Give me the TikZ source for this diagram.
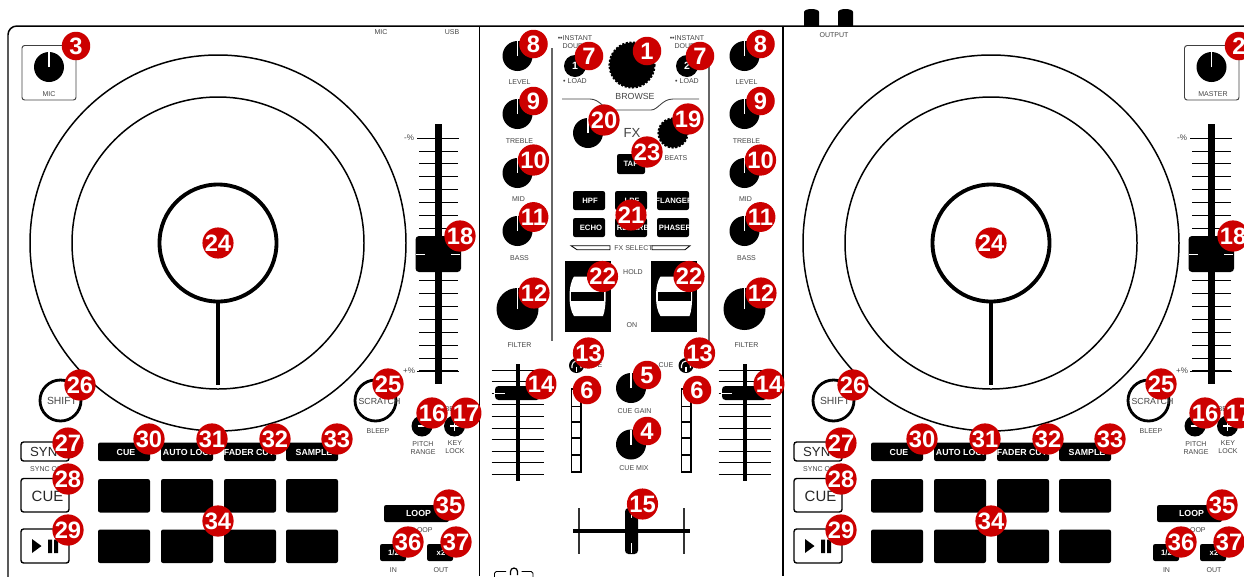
\documentclass[tikz,border=0pt]{standalone}
\usepackage{fontspec}
\setmainfont{Liberation Sans}
\usetikzlibrary{calc}
\definecolor{badgered}{HTML}{CC0000}
\definecolor{labelgray}{HTML}{444444}
\newcommand{\knob}[3]{% centre x, centre y, radius
  \fill (#1,#2) circle[radius=#3];
  \draw[white,line width=0.6pt] (#1,#2) -- (#1,#2-#3);
}
\begin{document}
\begin{tikzpicture}[x=0.02cm,y=-0.02cm,
    every node/.style={inner sep=0pt,outer sep=0pt},
    lbl/.style={text=labelgray,font=\fontsize{4}{4.6}\selectfont,align=center},
    keytxt/.style={text=white,font=\fontsize{5}{5}\selectfont\bfseries},
    smallkey/.style={text=white,font=\fontsize{4.4}{4.4}\selectfont\bfseries},
    pad/.style={fill=black,rounded corners=1.2pt},
    panel/.style={line width=0.85pt},
    tick/.style={line width=0.5pt},
    keybox/.style={draw=black,line width=0.8pt,rounded corners=1.5pt},
    thinbox/.style={draw=black!75,line width=0.55pt,rounded corners=1.5pt},
    ringbtn/.style={draw=black,line width=1.6pt},
    knurl/.style={fill=black,draw=black,line width=1.2pt,dash pattern=on 1.2pt off 0.9pt},
    badge/.style={circle,fill=badgered,text=white,minimum size=0.57cm,
      font=\fontsize{13.5}{13.5}\selectfont\bfseries}
  ]
  \clip (0,0) rectangle (1244,576);

  % case
  \draw[panel,rounded corners=5pt] (8,600) -- (8,26) -- (1260,26);
  \draw[panel] (479.5,26) -- (479.5,576);
  \draw[panel] (783,26) -- (783,576);
  \foreach \ox in {804,838}
    \fill (\ox,26) -- (\ox,12) arc[start angle=180,end angle=360,x radius=7.5,y radius=3] -- (\ox+15,26) -- cycle;
  \node[lbl] (outputlbl) at (834,35) {OUTPUT};
  \node[lbl] (miclbl) at (381,32) {MIC};
  \node[lbl] (usblbl) at (452,32) {USB};

  % corner gain boxes
  \draw[thinbox] (22,45.5) rectangle (76,100);
  \knob{49}{67}{15}
  \node[lbl] (micgain) at (49,94.5) {MIC};
  \draw[thinbox] (1184.5,45.5) rectangle (1239,100);
  \knob{1211.5}{67}{15}
  \node[lbl] (master) at (1213,94.5) {MASTER};

  % both decks
  \foreach \dx/\dk in {0/L,773/R} {
    \begin{scope}[shift={(\dx,0)}]
      % platter
      \draw[line width=0.85pt] (218,243) circle[radius=188];
      \draw[line width=0.85pt] (218,243) circle[radius=146];
      \draw[line width=2.2pt] (218,243) circle[radius=58.5];
      \draw[line width=2.2pt] (218,302) -- (218,385);

      % pitch fader
      \foreach \i in {0,...,18}
        \draw[tick] (419,{138+12.94*\i}) -- ++(39,0);
      \draw[tick] (417,138) -- (459,138);
      \draw[tick] (417,371) -- (459,371);
      \fill (434.5,124) rectangle (441.5,384);
      \fill[rounded corners=2pt] (415.5,236) rectangle (461,272);
      \draw[white,line width=0.5pt] (416,254) -- (425,254) (451,254) -- (460,254);
      \node[lbl,font=\fontsize{4.6}{4.6}\selectfont] (pitchtop\dk) at (409,138) {-\%};
      \node[lbl,font=\fontsize{4.6}{4.6}\selectfont] (pitchbot\dk) at (409,371) {+\%};

      % round buttons
      \draw[ringbtn] (60.5,400.5) circle[radius=20.5];
      \draw[ringbtn] (375.5,400.5) circle[radius=20.5];
      \node[lbl,font=\fontsize{5.9}{5.9}\selectfont] (shift\dk) at (62,401) {SHIFT};
      \node[lbl,font=\fontsize{5}{5}\selectfont] (scratch\dk) at (379.5,401) {SCRATCH};
      \node[lbl] (bleep\dk) at (378,431.5) {BLEEP};
      \fill (422,426) circle[radius=10.5];
      \fill (454.5,426) circle[radius=10.5];
      \draw[white,line width=1pt] (417.5,426) -- (426.5,426);
      \draw[white,line width=1pt] (450,426) -- (459,426) (454.5,421.5) -- (454.5,430.5);
      \node[lbl] (bend\dk) at (443,409) {PITCH BEND};
      \node[lbl] (range\dk) at (423,448.5) {PITCH\\RANGE};
      \node[lbl] (keylock\dk) at (455,447.5) {KEY\\LOCK};

      % transport column
      \draw[keybox] (21,442) rectangle (69,461);
      \draw[keybox] (21,478.5) rectangle (69,512);
      \draw[keybox] (21,529) rectangle (69,563);
      \node[font=\fontsize{7.5}{7.5}\selectfont,text=black!85] (sync\dk) at (48.5,452) {SYNC};
      \node[lbl] (syncoff\dk) at (48,469.5) {SYNC OFF};
      \node[font=\fontsize{8.5}{8.5}\selectfont,text=black!85] (cue\dk) at (47.5,496) {CUE};
      \fill (32,539) -- (41.5,546) -- (32,553) -- cycle;
      \fill (48,539.5) rectangle (52,553) (54,539.5) rectangle (58,553);

      % performance pads
      \foreach \px/\pt/\pn in {98/CUE/a,161/AUTO LOOP/b,224/FADER CUTS/c,286/SAMPLE/d} {
        \fill[pad] (\px,442.5) rectangle (\px+52,461);
        \fill[pad] (\px,479) rectangle (\px+52,512.5);
        \fill[pad] (\px,529.5) rectangle (\px+52,563);
        \node[keytxt] (mode\pn\dk) at (\px+28,452) {\pt};
      }

      % loop keys
      \fill[pad] (384,505) rectangle (449,522);
      \node[keytxt] (loop\dk) at (418.5,513) {LOOP};
      \node[lbl] (reloop\dk) at (418,530.5) {RELOOP};
      \fill[pad] (380,544) rectangle (406,561);
      \fill[pad] (427,544) rectangle (453,561);
      \node[smallkey] (half\dk) at (393.5,553) {1/2};
      \node[smallkey] (dbl\dk) at (441,553) {x2};
      \node[lbl] (in\dk) at (393.5,570.5) {IN};
      \node[lbl] (out\dk) at (441,570.5) {OUT};
    \end{scope}
  }

  % mixer channel strips
  \draw[black!60,line width=0.6pt] (552,48) -- (552,341) (709,48) -- (709,341);
  \foreach \kx/\sd in {517.5/L,744.5/R} {
    \knob{\kx}{56}{15}
    \knob{\kx}{114}{15}
    \knob{\kx}{173}{15}
    \knob{\kx}{231}{15}
    \knob{\kx}{309}{21}
    \node[lbl] (level\sd) at (\kx+2,82.5) {LEVEL};
    \node[lbl] (treble\sd) at (\kx+2,141.5) {TREBLE};
    \node[lbl] (mid\sd) at (\kx+1,199) {MID};
    \node[lbl] (bass\sd) at (\kx+2,258.5) {BASS};
    \node[lbl] (filter\sd) at (\kx+2,345.5) {FILTER};
    \foreach \i in {0,...,9}
      \draw[tick] (\kx-26,{370+11.6*\i}) -- ++(52,0);
    \fill (\kx-2,364) rectangle (\kx+2,481);
    \fill[rounded corners=2pt] (\kx-22.5,386) rectangle (\kx+22.5,400);
    \draw[white,line width=0.5pt] (\kx-24,393) -- (\kx-13,393);
  }

  % browse section
  \foreach \bx/\num/\sd in {575/1/L,687/2/R} {
    \node[lbl] (instant\sd) at (\bx+0,38) {••INSTANT};
    \node[lbl] (double\sd) at (\bx+2,46.5) {DOUBLE};
    \node[circle,fill=black,minimum size=0.44cm,text=white,font=\fontsize{6}{6}\selectfont\bfseries] (deck\sd) at (\bx,66) {\num};
    \node[lbl] (load\sd) at (\bx,81.5) {• LOAD};
  }
  \fill[knurl] (632,65) circle[radius=22.5];
  \node[lbl,font=\fontsize{5}{5}\selectfont] (browse) at (635,96) {BROWSE};
  \draw[black!75,line width=0.5pt] (562,99) -- (590,99) .. controls (600,99) and (604,110) .. (612,110)
    -- (651,110) .. controls (658,110) and (662,99) .. (673,99) -- (699,99);

  % fx section
  \knob{588}{133}{15}
  \fill[knurl] (673,133) circle[radius=14.5];
  \node[lbl,font=\fontsize{7.5}{7.5}\selectfont] (fx) at (632,132.5) {FX};
  \node[lbl] (beats) at (676,158) {BEATS};
  \fill[pad] (617,154) rectangle (645,174);
  \node[smallkey] (tap) at (631,164) {TAP};
  \foreach \fx/\fa/\fb/\fn in {573/HPF/ECHO/a,615/LPF/REVERB/b,657/FLANGER/PHASER/c} {
    \fill[pad] (\fx,191) rectangle (\fx+32,210);
    \fill[pad] (\fx,218) rectangle (\fx+32,237);
    \node[smallkey] (fxtop\fn) at (\fx+17,200.5) {\fa};
    \node[smallkey] (fxbot\fn) at (\fx+18,228) {\fb};
  }
  \node[lbl] (fxselect) at (633.5,248) {FX SELECT};
  \draw[tick] (571,245.7) -- (610,245.7) -- (610,249.7) -- (577,249.7) -- cycle;
  \draw[tick] (652,245.7) -- (690,245.7) -- (685,249.7) -- (652,249.7) -- cycle;

  % hold switches
  \foreach \sx in {0,86.5} {
    \begin{scope}[shift={(\sx,0)}]
      \fill (564.5,260.5) rectangle (610.5,332);
      \fill[white] (574,276.5) -- (603,276.5) .. controls (606.5,285) and (606.5,308) .. (603,316)
        -- (574,316) .. controls (568,308) and (568,285) .. (574,276.5);
      \fill (571,292) rectangle (604,301);
    \end{scope}
  }
  \node[lbl] (hold) at (633,272) {HOLD};
  \node[lbl] (on) at (632,325) {ON};

  % cue section
  \foreach \hx/\sd/\cx in {576.5/L/595,686/R/666} {
    \fill (\hx,365.5) circle[radius=7.5];
    \draw[white,line width=0.6pt] (\hx-4.5,368) -- (\hx-4.5,365.5) arc[start angle=180,end angle=360,radius=4.5] -- (\hx+4.5,368);
    \draw[white,line width=0.6pt] (\hx,366.5) -- (\hx,372);
    \node[lbl] (cue\sd) at (\cx,365) {CUE};
  }
  \foreach \mx in {571.5,681.5} {
    \draw[line width=0.6pt] (\mx,389) rectangle (\mx+9.5,472);
    \foreach \my in {406.7,422,438,455}
      \draw[line width=0.6pt] (\mx,\my) -- ++(9.5,0);
  }
  \knob{631}{388}{15}
  \knob{631}{444.5}{15}
  \node[lbl] (cuegain) at (634.5,411.5) {CUE GAIN};
  \node[lbl] (cuemix) at (634,468.5) {CUE MIX};

  % crossfader
  \draw[black!80,line width=0.6pt] (579,508) -- (579,554) (684,508) -- (684,554);
  \fill (573,529) rectangle (690,533);
  \fill[rounded corners=2pt] (625,508) rectangle (638,554);
  \draw[white,line width=0.5pt] (631,511) -- (631,518) (631,543) -- (631,553);

  % headphone socket
  \draw[line width=0.5pt,rounded corners=1pt] (494.5,577) -- (494.5,571.5) -- (506,571.5)
    (521.5,571.5) -- (533,571.5) -- (533,577);
  \draw[line width=0.7pt] (510.5,575) -- (510.5,571.5) arc[start angle=180,end angle=360,radius=3.5] -- (517.5,575);

  % numbered markers go on top of everything
  \foreach \bx/\by/\bn/\bk in {
      647/51/1/a, 1239/46/2/b, 76/46/3/c, 647/431/4/d, 647/375/5/e,
      587/390/6/f, 697/390/6/g, 589/56/7/h, 700/56/7/i,
      533.5/44/8/j, 760.5/44/8/k, 533.5/101/9/l, 760.5/101/9/m,
      533.5/160/10/n, 760.5/160/10/o, 533.5/217/11/p, 760.5/217/11/q,
      534/293/12/r, 761/293/12/s, 588.5/353/13/t, 699.5/353/13/u,
      541/384/14/v, 769/384/14/w, 642.5/504/15/x,
      688/119/19/y, 604/120/20/z, 631/215/21/A,
      602.5/276.5/22/B, 689/276.5/22/C, 647/152/23/D}
    \node[badge] (mark\bk) at (\bx,\by) {\bn};
  \foreach \dx/\dk in {0/L,773/R} {
    \foreach \bx/\by/\bn in {
        432/413/16, 466/413/17, 460/236/18, 218/243/24, 388/384/25, 80/385/26,
        68/443/27, 68/479/28, 68/530/29, 149/439/30, 212/439/31, 275/439/32, 337/439/33,
        218/521/34, 449/505/35, 408/542/36, 456/542/37}
      \node[badge] (mark\bn\dk) at (\bx+\dx,\by) {\bn};
  }
\end{tikzpicture}
\end{document}
